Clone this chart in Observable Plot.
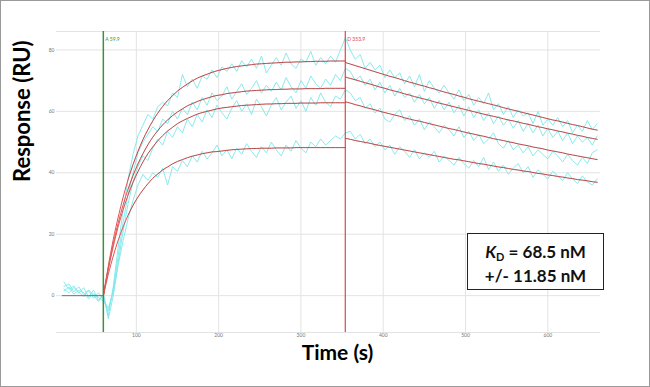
<!DOCTYPE html>
<html><head><meta charset="utf-8">
<script src="https://cdn.jsdelivr.net/npm/d3@7"></script>
<script src="https://cdn.jsdelivr.net/npm/@observablehq/plot@0.6"></script>
<style>
body{margin:0;background:#fff;}
#wrap{position:relative;width:650px;height:387px;overflow:hidden;font-family:Lato,"Open Sans",sans-serif;}
#frame{position:absolute;left:0;top:0;width:650px;height:387px;border:1px solid #9a9a9a;box-sizing:border-box;pointer-events:none;}
#kd{position:absolute;left:467px;top:233px;width:137px;height:57px;border:1.8px solid #222;box-sizing:border-box;background:#fff;text-align:center;font-weight:bold;font-size:17px;line-height:24px;padding-top:6px;color:#111;}
#kd sub{font-size:11px;line-height:0;vertical-align:-3px;}
</style></head><body>
<div id="wrap"><div id="chart"></div><div id="frame"></div><div id="kd"><i>K</i><sub>D</sub> = 68.5 nM<br>+/- 11.85 nM</div></div>
<script>
// sampled time points (s)
const time = [12,18,24,30,36,42,48,54,60,66,72,78,84,90,96,102,108,114,120,126,132,138,144,150,156,162,168,174,180,186,192,198,204,210,216,222,228,234,240,246,252,258,264,270,276,282,288,294,300,306,312,318,324,330,336,342,348,354,360,366,372,378,384,390,396,402,408,414,420,426,432,438,444,450,456,462,468,474,480,486,492,498,504,510,516,522,528,534,540,546,552,558,564,570,576,582,588,594,600,606,612,618,624,630,636,642,648,654,660];

// measured sensorgrams (RU)
const trace1 = [4.5,2.0,3.2,0.8,2.6,-0.5,1.8,-1.5,0.5,
 -6.5,3,16,28,38,46,52,55.5,59,57.5,61.5,63,61.8,66,64.5,72,68,70.5,67.5,71.5,70.5,73.5,71,74.5,73,75.5,73,76.5,74.5,77,74,78,72.5,75,77.5,75,79,75.5,74,77,76,79.5,75,77.5,75.5,78,76,80,
 84,
 80,77,78.5,74,76,73.5,75,71,73.5,71,72.5,69,71.5,68,72,66.5,70,67.5,66,68.5,66,64,67,63.5,65.5,62,64.5,62.5,66,60.5,62.5,59,61.5,58,60.5,58.5,59.5,56,60,55.5,57.5,55.5,58,55,57,53,55.5,53.5,57,54,56];
const trace2 = [3.0,3.8,1.2,2.9,0.4,1.6,-0.8,0.9,-1.2,
 -5,2,13,24,33,40,46.5,50,52.5,55,53.5,57.5,56,60,57.5,61,59,63,60.5,64.5,62,66,63.5,65,68,64,66.5,69,65.5,67.5,70,66,68.5,66.5,69.5,67,71,68,66,70,67.5,71.5,69,67.5,70.5,68.5,72,70,
 74,
 73,70,71.5,68.5,70.5,67,69.5,66,68.5,65,67.5,64.5,66,63,65.5,62.5,64.5,61,63.5,60.5,63,59.5,62,58.5,61.5,58,60.5,57,59.5,56,58.5,55.5,57.5,54.5,57,53.5,56,53,55.5,52,54.5,51.5,53.5,50.5,53,49.5,52,50,51.5,49,52];
const trace3 = [2.2,0.9,2.7,1.1,-0.3,1.9,0.2,-1.9,0.3,
 -7.5,0,11,21,30,37,42,45.5,44,48,51,49,53.5,51.5,55,53,57.5,55,59,56.5,60.5,58,62,59.5,57.5,61,63.5,60,62.5,59,64,61.5,58.5,62,64.5,60.5,63,65,61,63.5,60,64.5,62,66,63,61.5,65,64,
 67,
 66,63.5,64.5,61,62.5,59.5,61,57.5,56.5,59,60.5,57,58.5,55.5,57.5,54,56.5,55,53,55.5,54,52,55,51.5,53.5,50.5,52.5,49.5,51,53,49.5,48,50.5,47.5,49,46.5,48.5,45.5,47.5,46,44.5,47,45.5,43.5,46,44,42.5,45,43,46.5,47.5];
const trace4 = [1.5,2.8,0.5,1.7,1.0,-1.0,0.6,-0.6,-1.8,
 -4,1,10,18,25,31,36,39.5,37.5,40,38.5,41.5,36,42,40.5,44,42,45.5,43.5,47,44.5,46.5,49,45.5,47.5,44.5,48,46,49.5,47,45,48.5,46.5,50,47.5,45.5,49,47,50.5,48,46.5,50,48.5,51,49,50.5,52,51,
 53,
 53.5,51,52.5,49.5,51,48.5,50,47.5,49,46,48.5,47,45,47.5,44.5,46.5,45,47,43.5,45.5,44,42.5,45,43,41.5,44,42,45,41,43.5,40.5,42.5,39.5,41.5,43,40,42,38.5,41,39.5,38,40.5,39,37.5,40,38,36.5,39,37,36,38];

// fitted association curves (t = 60 … 354)
const fitAssoc1 = [0,9.7,18.3,25.6,32.1,37.8,42.7,47.0,50.8,54.0,56.9,59.4,61.6,63.5,65.1,66.6,67.8,68.9,69.9,70.8,71.5,72.1,72.7,73.2,73.6,74.0,74.3,74.6,74.8,75.0,75.2,75.4,75.5,75.6,75.7,75.8,75.9,76.0,76.0,76.1,76.1,76.2,76.2,76.3,76.3,76.3,76.4,76.4,76.4,76.4];
const fitAssoc2 = [0,9.1,16.9,23.7,29.6,34.7,39.1,42.9,46.2,49.1,51.6,53.7,55.6,57.2,58.6,59.8,60.8,61.8,62.5,63.2,63.8,64.3,64.8,65.2,65.4,65.8,66.0,66.2,66.4,66.6,66.7,66.8,66.9,67.0,67.1,67.1,67.2,67.2,67.3,67.3,67.3,67.4,67.4,67.4,67.4,67.5,67.5,67.5,67.5,67.5];
const fitAssoc3 = [0,8.6,16.0,22.5,28.0,32.8,36.9,40.4,43.5,46.2,48.4,50.4,52.1,53.6,54.8,56.0,56.9,57.7,58.4,59.1,59.6,60.0,60.4,60.8,61.1,61.3,61.5,61.7,61.9,62.0,62.1,62.2,62.3,62.4,62.4,62.5,62.5,62.6,62.6,62.6,62.7,62.7,62.7,62.7,62.8,62.8,62.8,62.8,62.8,62.8];
const fitAssoc4 = [0,7.0,12.9,18.1,22.4,26.2,29.4,32.1,34.4,36.4,38.2,39.6,40.9,41.9,42.9,43.7,44.3,44.9,45.4,45.8,46.2,46.5,46.8,46.9,47.1,47.3,47.5,47.6,47.7,47.8,47.9,47.9,48.0,48.0,48.0,48.1,48.1,48.1,48.1,48.2,48.2,48.2,48.2,48.2,48.2,48.2,48.2,48.2,48.2,48.2];

// fitted dissociation curves (t = 354 … 660)
const fitDiss1 = [75.9,75.4,74.9,74.4,73.9,73.4,72.9,72.4,71.9,71.4,71.0,70.5,70.0,69.5,69.1,68.6,68.2,67.7,67.3,66.8,66.3,65.9,65.5,65.0,64.6,64.1,63.7,63.3,62.9,62.5,62.1,61.7,61.2,60.8,60.4,60.0,59.6,59.2,58.8,58.4,58.0,57.6,57.2,56.9,56.5,56.1,55.7,55.4,55.0,54.6,54.2,53.9];
const fitDiss2 = [71.2,70.7,70.3,69.8,69.3,68.9,68.4,67.9,67.5,67.0,66.6,66.2,65.7,65.3,64.8,64.4,64.0,63.6,63.1,62.7,62.3,61.9,61.5,61.1,60.7,60.3,59.9,59.5,59.1,58.7,58.4,58.0,57.6,57.2,56.9,56.5,56.1,55.8,55.4,55.0,54.7,54.3,54.0,53.6,53.3,52.9,52.6,52.2,51.9,51.5,51.2,50.9];
const fitDiss3 = [63.1,62.7,62.2,61.8,61.3,60.9,60.5,60.0,59.6,59.2,58.8,58.4,57.9,57.5,57.1,56.8,56.4,56.0,55.6,55.2,54.8,54.4,54.1,53.7,53.3,52.9,52.6,52.2,51.9,51.5,51.1,50.8,50.5,50.1,49.8,49.4,49.1,48.8,48.4,48.1,47.8,47.4,47.1,46.8,46.5,46.1,45.8,45.5,45.2,44.9,44.6,44.3];
const fitDiss4 = [51.2,50.9,50.5,50.2,49.9,49.6,49.2,48.9,48.6,48.3,48.0,47.7,47.4,47.1,46.8,46.5,46.2,45.9,45.6,45.3,45.0,44.7,44.4,44.2,43.9,43.6,43.3,43.0,42.8,42.5,42.2,41.9,41.7,41.4,41.1,40.9,40.6,40.4,40.1,39.8,39.6,39.3,39.1,38.8,38.6,38.3,38.1,37.8,37.6,37.4,37.1,36.9];

// baseline fit
const baselineTime = [10, 60];
const baselineValue = [0, 0];

// markers & ticks
const injectStart = 59.9, injectStartLabel = "A 59.9";
const injectEnd = 353.9, injectEndLabel = "D 353.9";
const xTicks = [100,200,300,400,500,600];
const yTicks = [0,20,40,60,80];
const xDomain = [3, 664];
const yDomain = [-12, 86];

const raw = [trace1,trace2,trace3,trace4].flatMap((vals,k)=>vals.map((v,i)=>({t:time[i],v,s:k})));
const assocT = time.slice(8,58);
const dissT = time.slice(57);
const fits = [];
[fitAssoc1,fitAssoc2,fitAssoc3,fitAssoc4].forEach((vals,k)=>vals.forEach((v,i)=>fits.push({t:assocT[i],v,s:"a"+k})));
[fitDiss1,fitDiss2,fitDiss3,fitDiss4].forEach((vals,k)=>vals.forEach((v,i)=>fits.push({t:dissT[i],v,s:"d"+k})));
const baseline = baselineTime.map((t,i)=>({t,v:baselineValue[i]}));

const plot = Plot.plot({
  width:650, height:387,
  marginLeft:56, marginRight:50, marginTop:31, marginBottom:55,
  x:{domain:xDomain}, y:{domain:yDomain},
  style:{fontFamily:"Lato, 'Open Sans', sans-serif", background:"transparent"},
  marks:[
    Plot.gridY(yTicks,{stroke:"#e3e3e3", strokeOpacity:1}),
    Plot.gridX(xTicks,{stroke:"#e3e3e3", strokeOpacity:1}),
    Plot.ruleY([yDomain[1]],{stroke:"#e3e3e3"}),
    Plot.ruleY([yDomain[0]],{stroke:"#e3e3e3"}),
    Plot.axisY(yTicks,{tickSize:0, tickPadding:2, fontSize:5, fill:"#777", label:null}),
    Plot.axisX(xTicks,{tickSize:0, tickPadding:1, fontSize:5, fill:"#777", label:null}),
    Plot.line(raw,{x:"t", y:"v", z:"s", stroke:"#7ee6ea", strokeWidth:0.9}),
    Plot.line(fits,{x:"t", y:"v", z:"s", stroke:"#e25555", strokeWidth:1, curve:"monotone-x"}),
    Plot.line(fits.filter(d=>d.t>=90),{x:"t", y:"v", z:"s", stroke:"#333", strokeOpacity:0.28, strokeWidth:0.8, curve:"monotone-x"}),
    Plot.line(baseline,{x:"t", y:"v", stroke:"#666", strokeWidth:0.9}),
    Plot.ruleX([injectStart],{stroke:"#3f8f3f", strokeWidth:1.5}),
    Plot.ruleX([injectEnd],{stroke:"#e04848", strokeWidth:1.2}),
    Plot.text([{t:injectStart,label:injectStartLabel}],{x:"t", text:"label", frameAnchor:"top", dy:6, dx:2, textAnchor:"start", fontSize:5, fill:"#3f8f3f"}),
    Plot.text([{t:injectEnd,label:injectEndLabel}],{x:"t", text:"label", frameAnchor:"top", dy:6, dx:2, textAnchor:"start", fontSize:5, fill:"#e04848"}),
    Plot.text(["Response (RU)"],{frameAnchor:"left", dx:-34, rotate:-90, fontSize:22, fontWeight:"bold", fill:"#000"}),
    Plot.text(["Time (s)"],{frameAnchor:"bottom", dy:27, dx:9, fontSize:21, fontWeight:"bold", fill:"#000"})
  ]
});
document.getElementById("chart").appendChild(plot);
</script>
</body></html>
